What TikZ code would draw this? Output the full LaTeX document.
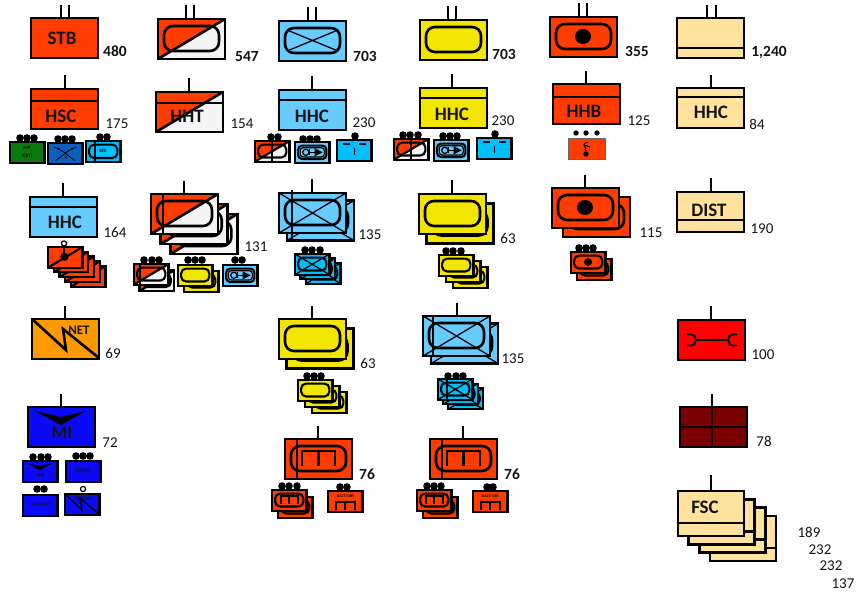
\documentclass[tikz,border=0pt]{standalone}
\usepackage{fontspec}
\setmainfont{Carlito}
\definecolor{cRed}{HTML}{FF3C00}
\definecolor{cWhite}{HTML}{F5F5F5}
\definecolor{cBlue}{HTML}{66CCFF}
\definecolor{cCyan}{HTML}{00BFFF}
\definecolor{cYel}{HTML}{F2E600}
\definecolor{cTan}{HTML}{FFE29E}
\definecolor{cOrange}{HTML}{FF9900}
\definecolor{cMI}{HTML}{0A0AF5}
\definecolor{cGreen}{HTML}{0A7A0A}
\definecolor{cEng}{HTML}{0A5FC0}
\definecolor{cMar}{HTML}{7A0000}
\definecolor{cPure}{HTML}{FF0000}
\tikzset{
  ln/.style={draw=black,line width=\lw pt,line join=miter},
  txt/.style={inner sep=0pt,outer sep=0pt,text=black!92,align=center},
}
\def\lw{2.6}\def\rad{9}
% unit: origin x y, scale, content
\newcommand\Un[4]{\begin{scope}[shift={(#1,#2)},x=#3pt,y=-#3pt]\pgfmathparse{#3<0.8?1:0}\ifnum\pgfmathresult=1 \def\lw{2.1}\def\rad{5}\else\def\lw{2.6}\def\rad{9}\fi #4\end{scope}}
\newcommand\St[7]{\foreach \i in {#4,...,0}{\begin{scope}[shift={({\i*#5},{\i*#6})}]\Un{#1}{#2}{#3}{#7}\end{scope}}}
\newcommand\Bx[1]{\path[ln,fill=#1] (0,0) rectangle (67,40);}
\newcommand\Dg{\path[fill=cWhite] (0,0) rectangle (67,40);\path[fill=cRed] (0,0)--(67,0)--(0,40)--cycle;\path[ln] (0,40)--(67,0);\path[ln] (0,0) rectangle (67,40);}
\newcommand\Xx{\draw[black,line width=1.3pt] (0,0)--(67,40) (0,40)--(67,0);}
\newcommand\Rr{\path[ln,rounded corners=\rad pt] (6,7) rectangle (61,32);}
\newcommand\RrX{\path[ln,rounded corners=\rad pt] (6,7) rectangle (61,32);\draw[black,line width=1.3pt] (8,9)--(59,30) (8,30)--(59,9);}
\newcommand\Vl[1]{\path[ln] (#1,0)--(#1,40);}
\newcommand\Br[1]{\path[ln] (0,#1)--(67,#1);}
\newcommand\Dt{\path[fill=black] (33,19.5) ellipse (8 and 7.5);}
\newcommand\Cb{\path[ln,line cap=butt] (17,27)--(17,12)--(50,12)--(50,27) (33.5,12)--(33.5,27);}
\newcommand\Trk{\path[ln,rounded corners=4pt] (6,7) rectangle (61,33);\path[draw=black,line width=1.2pt,rounded corners=3pt] (10,11) rectangle (57,29);\path[draw=black,line width=1.2pt] (21,20) circle (6);\path[draw=black,line width=1.2pt] (28,14)--(28,26) (28,20)--(38,20);\path[fill=black] (38,12)--(54,20)--(38,28)--cycle;}
\newcommand\Ind{\draw[black,line width=1.3pt] (11,8)--(25,8) (42,8)--(56,8);\draw[black,line width=1.5pt] (33.5,15)--(33.5,29);}
\newcommand\Chev{\path[fill=black] (7,4)--(33,10)--(58,4)--(33,18)--cycle;}
\newcommand\Tk[3]{\draw[black,line width=2.8pt] (#1,#2)--(#1,#3);}
\newcommand\Dots[2]{\foreach \q in {#2}{\path[fill=black] (\q,#1) circle (3.8);}}
\newcommand\Ring[3]{\draw[black,fill=white,line width=1.2pt] (#1,#2) circle (#3);}
\newcommand\T[5]{\node[txt,font=\bfseries\fontsize{#1}{#1}\selectfont] (t#2-#3) at (#2,#3) {#4};}
\newcommand\N[3]{\node[txt,font=\fontsize{15}{15}\selectfont] (n#1-#2) at (#1,#2) {#3};}
\newcommand\Nb[3]{\node[txt,font=\bfseries\fontsize{15.5}{15.5}\selectfont] (n#1-#2) at (#1,#2) {#3};}
\begin{document}
\begin{tikzpicture}[x=1pt,y=-1pt]
\useasboundingbox (0,0) rectangle (858,596);
\path[fill=white] (0,0) rectangle (858,596);
% ---- Column 1
\Tk{61}{5}{18}\Tk{69}{5}{18}\Un{31}{18}{1}{\Bx{cRed}}\T{19}{62}{38}{STB}{}\Nb{115}{51}{480}
\Tk{65}{75}{89}\Un{31}{89}{1}{\Bx{cRed}\Br{12}}\T{19}{61}{116}{HSC}{}\N{117}{124}{175}
\Dots{138}{20,27,34}\Un{10}{142}{0.515}{\Bx{cGreen}}\T{5}{27}{148}{MP}{}\T{5}{27}{156.5}{(CBT)}{}
\Dots{139}{58,65,72}\Un{48}{143}{0.515}{\Bx{cEng}\draw[black,line width=.8pt] (12,8) .. controls (30,14) and (40,26) .. (52,34);\draw[black,line width=.8pt] (55,8) .. controls (37,14) and (27,26) .. (15,34);\path[fill=black] (20,11) circle (2.5) (47,11) circle (2.5);}\T{5}{66}{158}{R}{}
\Dots{137}{100,107}\Un{86}{141}{0.515}{\Bx{cCyan}\path[ln,rounded corners=5pt] (6,7) rectangle (61,33);\Vl{17}}\T{5}{103}{150.5}{SEC}{}
\Tk{63}{183}{197}\Un{30}{197}{1}{\Bx{cBlue}\Br{10}}\T{19}{65}{222}{HHC}{}\N{115}{232}{164}
\St{48}{247}{0.515}{4}{5.75}{4.75}{\Bx{cRed}\path[ln] (0,40)--(67,0);}
\Un{48}{247}{0.515}{\path[fill=black] (32,19) circle (8);}
\draw[black,line width=1.5pt] (64,247)--(64,257);\Ring{64}{243.5}{2.6}
\Tk{65}{306}{319}\Un{32}{319}{1}{\Bx{cOrange}\path[ln,line join=miter] (0,0)--(34,31)--(31,10)--(67,39);}\T{13}{79}{330}{NET}{}\N{113}{353}{69}
\Tk{61}{394}{407}\Un{28}{407}{1}{\Bx{cMI}\Chev}\T{18}{62}{433}{MI}{}\N{110}{443}{72}
\Dots{457}{33,41,48}\Un{23}{461}{0.515}{\Bx{cMI}\Chev}\T{6}{41}{476}{MI}{}
\Dots{456}{76,83,90}\Un{66}{461}{0.515}{\Bx{cMI}}\T{5.5}{83}{471}{SIGINT}{}
\Dots{489}{37,44}\Un{23}{495}{0.515}{\Bx{cMI}}\T{5.5}{41}{505}{HUMINT}{}
\Un{65}{494}{0.515}{\Bx{cMI}\draw[black,line width=1.2pt] (0,0)--(33,31)--(29,8)--(67,40);}\T{5.5}{83}{499}{TROJAN}{}\Ring{83}{489}{2.6}
% ---- Column 2
\Tk{186}{5}{19}\Tk{194}{5}{19}\Un{158}{19}{1}{\Dg\Rr}\Nb{247}{57}{547}
\Tk{189}{78}{92}\Un{156}{92}{1}{\Dg\Br{11}}\T{19}{187}{116}{HHT}{}\N{242}{124}{154}
\Tk{184}{181}{194}
\St{151}{194}{1}{2}{9.7}{10}{\Dg\Rr}
\Un{151}{194}{1}{\Vl{12}}
\N{256}{247}{131}
\Dots{260}{144,152,159}\St{134}{264}{0.515}{1}{5.5}{6.5}{\Dg\Rr}\Un{134}{264}{0.515}{\Vl{12}}
\Dots{260}{188,195,202}\St{178}{265}{0.515}{1}{6}{6}{\Bx{cYel}\Rr}
\Dots{260}{235,242}\Un{223}{265}{0.515}{\Bx{cBlue}\Trk}
% ---- Column 3
\Tk{308}{7}{21}\Tk{316}{7}{21}\Un{279}{21}{1}{\Bx{cBlue}\RrX}\Nb{365}{56}{703}
\Tk{312}{76}{90}\Un{279}{90}{1}{\Bx{cBlue}\Br{10}}\T{19}{312}{116}{HHC}{}\N{364}{123}{230}
\Dots{137}{271,278}\Un{255}{141}{0.515}{\Dg\Rr\Vl{33}}
\Dots{139}{303,310,317}\Un{295}{142}{0.515}{\Bx{cBlue}\Trk}
\Dots{136}{355}\Un{337}{140}{0.515}{\Bx{cCyan}\Ind}
\Tk{312}{179}{193}
\St{279}{193}{1}{1}{8}{7.5}{\Bx{cBlue}\Rr\Xx}
\Un{279}{193}{1}{\path[ln] (13,-3)--(13,47);}
\N{370}{235}{135}
\Dots{250}{305,312,320}\St{295}{254}{0.515}{2}{5.5}{4.5}{\Bx{cCyan}\Rr\Xx}
\Tk{312}{306}{319}\St{279}{319}{1}{1}{7.5}{9.5}{\Bx{cYel}\Rr}\N{368}{363}{63}
\Dots{376}{307,314,321}\St{298}{380}{0.515}{2}{7}{6}{\Bx{cYel}\Rr}
\Tk{318}{426}{439}\Un{285}{439}{1}{\Bx{cRed}\Rr\Vl{12}\Cb}\Nb{367}{474}{76}
\Dots{486}{282,289,297}\St{272}{490}{0.515}{1}{6}{7}{\Bx{cRed}\Rr\Cb}
\Dots{487}{340,347}\Un{328}{491}{0.515}{\Bx{cRed}\path[ln,line cap=butt] (15,36)--(15,22)--(52,22)--(52,36) (33.5,22)--(33.5,36);}\T{4.2}{345.5}{496.5}{AALT/OBS}{}
% ---- Column 4
\Tk{448}{6}{20}\Tk{456}{6}{20}\Un{420}{20}{1}{\Bx{cYel}\Rr}\Nb{504}{54}{703}
\Tk{452}{74}{88}\Un{420}{88}{1}{\Bx{cYel}\Br{10}}\T{19}{452}{114}{HHC}{}\N{503}{121}{230}
\Dots{135}{403,410,418}\Un{394}{139}{0.515}{\Dg\Rr\Vl{33}}
\Dots{136}{443,450,457}\Un{434}{140}{0.515}{\Bx{cBlue}\Trk}
\Dots{134}{495}\Un{477}{138}{0.515}{\Bx{cCyan}\Ind}
\Tk{452}{180}{194}\St{419}{194}{1}{1}{7.5}{9.5}{\Bx{cYel}\Rr}\N{508}{238}{63}
\Dots{251}{446,453,461}\St{439}{255}{0.515}{2}{7}{6}{\Bx{cYel}\Rr}
\Tk{457}{303}{316}\St{423}{316}{1}{1}{8}{7.5}{\Bx{cBlue}\Rr\Xx}
\Un{423}{316}{1}{\Vl{10}}
\N{513}{359}{135}
\Dots{376}{448,456,463}\St{438}{379}{0.515}{2}{5.2}{4.7}{\Bx{cCyan}\Rr\Xx}
\Un{438}{379}{0.515}{\Vl{17}}
\Tk{463}{426}{439}\Un{430}{439}{1}{\Bx{cRed}\Rr\Vl{12}\Cb}\Nb{512}{474}{76}
\Dots{486}{427,434,441}\St{417}{490}{0.515}{1}{6}{7}{\Bx{cRed}\Rr\Cb}
\Dots{487}{487,493}\Un{473}{491}{0.515}{\Bx{cRed}\path[ln,line cap=butt] (15,36)--(15,22)--(52,22)--(52,36) (33.5,22)--(33.5,36);}\T{4.2}{490.5}{496.5}{AALT/OBS}{}
% ---- Column 5
\Tk{579}{3}{17}\Tk{587}{3}{17}\Un{550}{17}{1}{\Bx{cRed}\Rr\Dt}\Nb{637}{51}{355}
\Tk{586}{71}{84}\Un{553}{84}{1}{\Bx{cRed}\Br{13}}\T{19}{584}{111}{HHB}{}\N{639}{121}{125}
\path[fill=black] (576,133) circle (2.7) (586,133) circle (2.7) (597,133) circle (2.7);
\path[draw=black!60,line width=.8pt,fill=cRed] (568,138) rectangle (605,159);
\draw[black,line width=1pt] (588,142) .. controls (583,143) and (583,146) .. (586,148) (584,145)--(590,147) (586,148) .. controls (585,149) and (584,150) .. (586,151);
\path[fill=black] (586,154) circle (2.7);
\Tk{585}{175}{188}\St{552}{188}{1}{1}{11}{9}{\Bx{cRed}\Rr\Dt}\N{651}{233}{115}
\Dots{248}{579,586,593}\St{571}{252}{0.515}{1}{6}{7}{\Bx{cRed}\Rr\Dt}
% ---- Column 6
\Tk{707}{5}{18}\Tk{716}{5}{18}\Un{677}{18}{1}{\Bx{cTan}\Br{30}}\Nb{769}{52}{1,240}
\Tk{711}{75}{88}\Un{677}{88}{1}{\Bx{cTan}\Br{9}}\T{19}{711}{112}{HHC}{}\N{757}{124}{84}
\Tk{711}{178}{192}\Un{677}{192}{1}{\Bx{cTan}\Br{28}}\T{19}{709}{210}{DIST}{}\N{762}{229}{190}
\Tk{711}{306}{320}\Un{678}{320}{1}{\Bx{cPure}\draw[black,line width=1.8pt] (18,20)--(50,20);
  \draw[black,line width=1.8pt] (9,14.5)--(14,14.5) .. controls (19,15) and (19,25) .. (14,25.5)--(9,25.5);
  \draw[black,line width=1.8pt] (59,14.5)--(54,14.5) .. controls (49,15) and (49,25) .. (54,25.5)--(59,25.5);}\N{763}{355}{100}
\Tk{712}{394}{407}\Un{680}{407}{1}{\Bx{cMar}\Br{20}\Vl{32}}\N{764}{441}{78}
\Tk{711}{475}{491}
\foreach \i in {3,2,1,0}{\begin{scope}[shift={({\i*10.6},{\i*8.3})}]\Un{678}{491}{1}{\path[ln,fill=cTan] (0,0) rectangle (66,45);\path[ln] (0,32)--(66,32);}\end{scope}}
\T{19}{705}{507}{FSC}{}
\N{809}{532}{189}\N{820}{550}{232}\N{831}{566}{232}\N{843}{584}{137}
\end{tikzpicture}
\end{document}
